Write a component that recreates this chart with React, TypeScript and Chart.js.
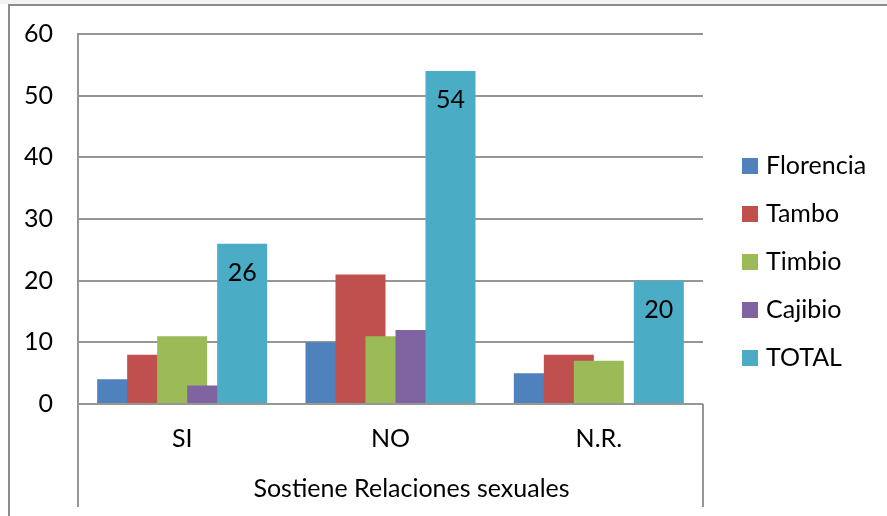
import { useEffect, useRef } from 'react';
import { Chart, registerables } from 'chart.js';

Chart.register(...registerables);

// ---- data ----
const categories = ['SI', 'NO', 'N.R.'];
const seriesNames = ['Florencia', 'Tambo', 'Timbio', 'Cajibio', 'TOTAL'];
const florencia = [4, 10, 5];
const tambo = [8, 21, 8];
const timbio = [11, 11, 7];
const cajibio = [3, 12, 0];
const total = [26, 54, 20];
const yMin = 0;
const yMax = 60;
const yStep = 10;
const xAxisTitle = 'Sostiene Relaciones sexuales';
const labelledSeries = 'TOTAL';

// ---- style ----
const seriesColors = ['#4F81BD', '#C0504D', '#9BBB59', '#8064A2', '#4BACC6'];
const FONT_FAMILY = 'Lato, "Open Sans", sans-serif';
const FONT_SIZE = 25;
const GRID = '#969696';
const W = 887;
const H = 516;

const seriesValues = [florencia, tambo, timbio, cajibio, total];

const framePlugin = {
  id: 'frame',
  beforeDraw(chart: any) {
    const { ctx, width, height } = chart;
    ctx.save();
    ctx.fillStyle = '#ffffff';
    ctx.fillRect(0, 0, width, height);
    ctx.fillStyle = '#f3f3f3';
    ctx.fillRect(0, 0, width, 4);
    ctx.strokeStyle = '#8c8c8c';
    ctx.lineWidth = 2;
    ctx.beginPath();
    ctx.moveTo(9, height);
    ctx.lineTo(9, 5);
    ctx.lineTo(width, 5);
    ctx.stroke();
    ctx.restore();
  },
};

// draw datasets so that later series sit on top of earlier ones (overlapping bars)
const orderPlugin = {
  id: 'orderDraw',
  beforeDatasetsDraw(chart: any) {
    const metas = chart.getSortedVisibleDatasetMetas();
    for (const m of metas) m.controller.draw();
    const ctx = chart.ctx;
    ctx.save();
    ctx.fillStyle = '#000';
    ctx.font = `${FONT_SIZE}px ${FONT_FAMILY}`;
    ctx.textAlign = 'center';
    ctx.textBaseline = 'middle';
    chart.data.datasets.forEach((ds: any, di: number) => {
      if (ds.label !== labelledSeries) return;
      const meta = chart.getDatasetMeta(di);
      meta.data.forEach((bar: any, i: number) => {
        ctx.fillText(String(ds.data[i]), bar.x, bar.y + 29);
      });
    });
    ctx.restore();
    return false;
  },
};

// the box below the plot, the axis title and the legend
const decorPlugin = {
  id: 'decor',
  afterDraw(chart: any) {
    const { ctx, chartArea } = chart;
    const xb = chart.scales.x.bottom;
    ctx.save();
    ctx.strokeStyle = GRID;
    ctx.lineWidth = 2;
    ctx.beginPath();
    ctx.moveTo(chartArea.left, chartArea.bottom);
    ctx.lineTo(chartArea.left, xb);
    ctx.moveTo(chartArea.right, chartArea.bottom);
    ctx.lineTo(chartArea.right, xb);
    ctx.stroke();

    ctx.font = `${FONT_SIZE}px ${FONT_FAMILY}`;
    ctx.fillStyle = '#000';
    ctx.textBaseline = 'middle';
    ctx.textAlign = 'center';
    ctx.fillText(xAxisTitle, (chartArea.left + chartArea.right) / 2 + 21, xb - 18);

    // legend
    ctx.textAlign = 'left';
    const lx = chartArea.right + 39;
    const ly = 166;
    chart.data.datasets.forEach((ds: any, i: number) => {
      const cy = ly + i * 48;
      ctx.fillStyle = ds.backgroundColor;
      ctx.fillRect(lx, cy - 8, 16, 16);
      ctx.fillStyle = '#000';
      ctx.fillText(ds.label, lx + 24, cy);
    });
    ctx.restore();
  },
};

export default function App() {
  const ref = useRef<HTMLCanvasElement | null>(null);

  useEffect(() => {
    const canvas = ref.current;
    if (!canvas) return;

    const font = { family: FONT_FAMILY, size: FONT_SIZE };

    const chart = new Chart(canvas, {
      type: 'bar',
      data: {
        labels: categories,
        datasets: seriesNames.map((name, i) => ({
          label: name,
          data: seriesValues[i],
          backgroundColor: seriesColors[i],
          borderWidth: 0,
          categoryPercentage: 0.72,
          barPercentage: 1.6667,
        })),
      },
      options: {
        responsive: false,
        animation: false,
        devicePixelRatio: 1,
        layout: { padding: { top: 17, bottom: 9, left: 0, right: 184 } },
        plugins: {
          legend: { display: false },
          tooltip: { enabled: false },
        },
        scales: {
          x: {
            grid: { display: false, drawTicks: false },
            border: { display: false },
            ticks: { color: '#000', font, padding: 20 },
            title: { display: false, text: xAxisTitle },
            afterFit: (s: any) => {
              s.height = 103;
            },
          },
          y: {
            min: yMin,
            max: yMax,
            ticks: { stepSize: yStep, color: '#000', font, padding: 25 },
            grid: { color: GRID, lineWidth: 2, drawTicks: false },
            border: { display: true, color: GRID, width: 2 },
            afterFit: (s: any) => {
              s.width = 78;
              s.paddingTop = 34;
            },
          },
        },
      } as any,
      plugins: [framePlugin, orderPlugin, decorPlugin],
    });

    return () => chart.destroy();
  }, []);

  return (
    <canvas
      ref={ref}
      width={W}
      height={H}
      style={{ position: 'absolute', left: 0, top: 0, display: 'block' }}
    />
  );
}
